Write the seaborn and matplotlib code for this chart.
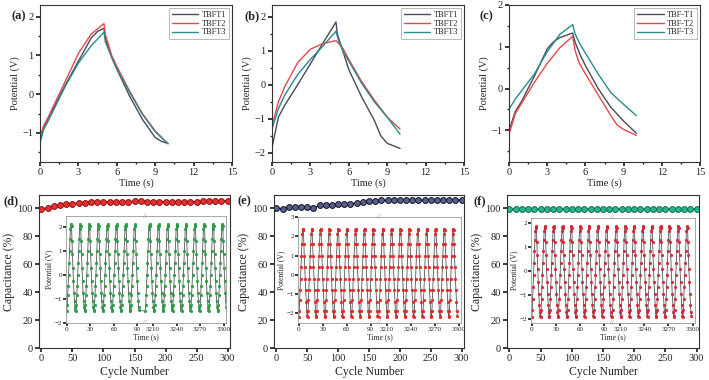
import numpy as np
import pandas as pd
import matplotlib
matplotlib.use('Agg')
import matplotlib.pyplot as plt
from matplotlib.ticker import MultipleLocator
import seaborn as sns

# ---------------- top row: GCD curves (time s, potential V) ----------------
t_a1 = [0, 0.3, 0.6, 2, 4, 4.5, 5, 5.1, 5.6, 6, 7, 8, 9, 9.5, 10]
v_a1 = [-1.2, -0.85, -0.65, 0.25, 1.45, 1.62, 1.7, 1.45, 0.95, 0.65, -0.05, -0.65, -1.12, -1.22, -1.27]
t_a2 = [0, 0.3, 0.6, 2, 3, 4, 5, 5.1, 5.6, 6, 7, 8, 9, 10]
v_a2 = [-1.1, -0.8, -0.62, 0.35, 1.05, 1.55, 1.82, 1.55, 1.0, 0.72, 0.08, -0.5, -0.95, -1.28]
t_a3 = [0, 0.3, 0.6, 2, 3, 4, 5, 5.1, 5.6, 6, 7, 8, 9, 10]
v_a3 = [-1.25, -0.9, -0.72, 0.22, 0.8, 1.25, 1.6, 1.35, 0.95, 0.65, 0.05, -0.52, -0.97, -1.28]

t_b1 = [0, 0.5, 1, 2, 3, 4, 5, 5.1, 6, 7, 8, 8.5, 9, 10]
v_b1 = [-1.85, -0.95, -0.6, 0.0, 0.62, 1.24, 1.85, 1.5, 0.45, -0.35, -1.05, -1.5, -1.72, -1.87]
t_b2 = [0, 0.5, 1, 2, 3, 4, 5, 5.5, 6, 7, 8, 9, 10]
v_b2 = [-1.2, -0.5, -0.05, 0.65, 1.05, 1.22, 1.3, 1.1, 0.75, 0.1, -0.45, -0.95, -1.3]
t_b3 = [0, 0.5, 1, 2, 3, 4, 5, 5.2, 5.6, 6, 7, 8, 9, 10]
v_b3 = [-1.3, -0.7, -0.3, 0.3, 0.75, 1.15, 1.58, 1.3, 0.95, 0.7, 0.05, -0.5, -0.95, -1.45]

t_c1 = [0, 0.5, 1, 2, 3, 3.5, 4, 5, 5.2, 5.6, 6, 7, 8, 9, 10]
v_c1 = [-1.0, -0.55, -0.3, 0.3, 0.95, 1.12, 1.22, 1.33, 1.1, 0.8, 0.55, 0.0, -0.45, -0.78, -1.07]
t_c2 = [0, 0.5, 1, 2, 3, 4, 5, 5.2, 5.5, 6, 7, 8, 8.5, 9, 10]
v_c2 = [-1.1, -0.6, -0.35, 0.15, 0.6, 0.98, 1.25, 0.9, 0.62, 0.35, -0.15, -0.65, -0.88, -0.98, -1.12]
t_c3 = [0, 0.5, 1, 2, 3, 4, 5, 5.2, 5.6, 6, 7, 8, 9, 10]
v_c3 = [-0.5, -0.25, -0.05, 0.35, 0.88, 1.3, 1.53, 1.3, 1.05, 0.85, 0.35, -0.1, -0.38, -0.65]

# ---------------- bottom row: capacitance retention ----------------
cycles = list(range(0, 301, 10))
cap_d = [99.8, 100.0, 101.5, 102.3, 102.9, 103.4, 103.8, 104.1, 104.3, 104.4, 104.5,
         104.6, 104.7, 104.8, 104.8, 104.9, 104.9, 104.8, 104.8, 104.8, 104.7, 104.7,
         104.7, 104.7, 104.8, 104.8, 104.9, 105.0, 105.3, 105.4, 105.5]
cap_e = [100.0, 99.6, 101.0, 101.0, 101.0, 100.7, 100.2, 102.0, 102.4, 102.6, 102.8,
         103.0, 103.3, 103.6, 104.3, 105.2, 105.5, 105.6, 105.7, 105.7, 105.7, 105.7,
         105.8, 105.8, 105.8, 105.8, 105.8, 105.8, 105.8, 105.8, 105.8]
cap_f = [99.6, 99.2, 99.3, 99.5, 99.3, 99.5, 99.5, 99.3, 99.5, 99.3, 99.5,
         99.3, 99.5, 99.3, 99.2, 99.5, 99.3, 99.5, 99.3, 99.5, 99.3, 99.5,
         99.3, 99.5, 99.3, 99.5, 99.3, 99.5, 99.3, 99.5, 99.6]

# ---------------- insets: one charge/discharge cycle ----------------
cycle_frac = [0, .05, .1, .15, .2, .25, .3, .35, .4, .45, .48, .52, .57, .62, .67, .73, .79, .85, .9, .95]
cycle_v_d = [-1.5, -1.25, -0.85, -0.45, 0.0, 0.5, 1.0, 1.5, 1.9, 2.05, 2.1, 2.05, 1.4, 0.85, 0.3, -0.25, -0.75, -1.1, -1.35, -1.48]
cycle_v_e = [-2.2, -1.9, -1.3, -0.8, -0.2, 0.4, 1.0, 1.6, 2.1, 2.35, 2.4, 2.35, 1.6, 1.0, 0.4, -0.2, -0.8, -1.4, -1.9, -2.15]
cycle_v_f = [-1.9, -1.6, -1.15, -0.65, -0.15, 0.35, 0.85, 1.3, 1.65, 1.82, 1.85, 1.8, 1.2, 0.65, 0.1, -0.45, -0.95, -1.4, -1.7, -1.85]
period_d, period_e, period_f = 11.6, 11.0, 11.0
n_cycles_d = (8, 9)
n_cycles_e = (9, 9)
n_cycles_f = (9, 9)
inset_ticks = [0, 30, 60, 90, 3210, 3240, 3270, 3300]

sns.set_theme(style='ticks')
plt.rcParams['font.family'] = ['Liberation Serif', 'DejaVu Serif']
plt.rcParams['axes.edgecolor'] = '#333333'
plt.rcParams['axes.linewidth'] = 0.8
plt.rcParams['xtick.major.size'] = 3
plt.rcParams['ytick.major.size'] = 3
plt.rcParams['xtick.minor.size'] = 1.6
plt.rcParams['ytick.minor.size'] = 1.6
plt.rcParams['xtick.major.pad'] = 1.5
plt.rcParams['ytick.major.pad'] = 1.5

fig = plt.figure(figsize=(7.09, 3.80), dpi=100)
W, H = 709, 380


def px_axes(l, t, r, b):
    return fig.add_axes([l / W, 1 - b / H, (r - l) / W, (b - t) / H])


def broken_time(t):
    # inset axis: 0-100 s then 3200-3300 s side by side
    t = np.asarray(t, dtype=float)
    return np.where(t <= 150, t, t - 3100)


gray, red, teal = '#4a4a5c', '#e5484d', '#2b8a8c'

# ---------- top row ----------
top_panels = [
    ((40, 5, 232, 162), '(a)', 11, (-1.75, 2.3), [-1, 0, 1, 2],
     [(t_a1, v_a1), (t_a2, v_a2), (t_a3, v_a3)], ['TBFT1', 'TBFT2', 'TBFT3']),
    ((272, 5, 464, 162), '(b)', 244, (-2.27, 2.35), [-2, -1, 0, 1, 2],
     [(t_b1, v_b1), (t_b2, v_b2), (t_b3, v_b3)], ['TBFT1', 'TBFT2', 'TBFT3']),
    ((509, 5, 700, 162), '(c)', 480, (-1.76, 2.0), [-1, 0, 1, 2],
     [(t_c1, v_c1), (t_c2, v_c2), (t_c3, v_c3)], ['TBF-T1', 'TBF-T2', 'TBF-T3']),
]

for box, tag, tag_x, ylim, yticks, curves, names in top_panels:
    ax = px_axes(*box)
    frames = []
    for (t, v), name in zip(curves, names):
        frames.append(pd.DataFrame({'Time': t, 'Potential': v, 'Sample': name}))
    df = pd.concat(frames)
    sns.lineplot(data=df, x='Time', y='Potential', hue='Sample',
                 palette=[gray, red, teal], linewidth=1.0, estimator=None,
                 sort=False, ax=ax)
    ax.set_xlim(0, 15)
    ax.set_ylim(*ylim)
    ax.set_xticks([0, 3, 6, 9, 12, 15])
    ax.set_yticks(yticks)
    ax.xaxis.set_minor_locator(MultipleLocator(1.5))
    ax.yaxis.set_minor_locator(MultipleLocator(0.5))
    ax.tick_params(labelsize=7.5, colors='#222222')
    ax.set_xlabel('Time (s)', fontsize=7.5, labelpad=1)
    ax.set_ylabel('Potential (V)', fontsize=7.5, labelpad=2)
    for s in ax.spines.values():
        s.set_visible(True)
    leg = ax.legend(loc='upper right', fontsize=6, frameon=True, fancybox=False,
                    edgecolor='#999999', handlelength=3.2, borderpad=0.3,
                    labelspacing=0.1, handletextpad=0.4, borderaxespad=0.4)
    leg.get_frame().set_linewidth(0.6)
    fig.text(tag_x / W, 1 - 16 / H, tag, fontsize=9, fontweight='bold',
             va='center', ha='left')

# ---------- bottom row ----------
bottom_panels = [
    ((39, 195, 230, 348), (66, 216, 226, 323), '(d)', 3, cap_d,
     dict(color='#d42020', mfc='#e83030', mec='#8a1010'),
     cycle_v_d, period_d, n_cycles_d, '#2e9a48', (-2.0, 2.45), [-2, -1, 0, 1, 2]),
    ((274, 195, 464, 348), (298, 217, 461, 323), '(e)', 238, cap_e,
     dict(color='#15153a', mfc='#5a6088', mec='#10102a'),
     cycle_v_e, period_e, n_cycles_e, '#e02828', (-2.5, 3.0), [-2, -1, 0, 1, 2, 3]),
    ((507, 195, 699, 348), (531, 218, 695, 323), '(f)', 473, cap_f,
     dict(color='#138a6a', mfc='#2ab58c', mec='#0d6a50'),
     cycle_v_f, period_f, n_cycles_f, '#d02838', (-2.15, 2.2), [-2, -1, 0, 1, 2]),
]

for box, ibox, tag, tag_x, cap, style, cyc_v, period, ncyc, mcol, iylim, iyticks in bottom_panels:
    ax = px_axes(*box)
    df = pd.DataFrame({'Cycle': cycles, 'Capacitance': cap})
    sns.lineplot(data=df, x='Cycle', y='Capacitance', color=style['color'],
                 linewidth=1.0, marker='o', markersize=4.2,
                 markerfacecolor=style['mfc'], markeredgecolor=style['mec'],
                 markeredgewidth=0.7, ax=ax)
    ax.set_xlim(-4, 304)
    ax.set_ylim(0, 109.5)
    ax.set_xticks(range(0, 301, 50))
    ax.set_yticks(range(0, 101, 20))
    ax.tick_params(labelsize=7.5, colors='#222222')
    ax.set_xlabel('Cycle Number', fontsize=8.5, labelpad=2)
    ax.set_ylabel('Capacitance (%)', fontsize=8.5, labelpad=2)
    for s in ax.spines.values():
        s.set_visible(True)
    fig.text(tag_x / W, 1 - 201 / H, tag, fontsize=9, fontweight='bold',
             va='center', ha='left')

    # inset GCD cycling
    ins = px_axes(*ibox)
    one_t = np.array(cycle_frac) * period
    seg_t, seg_v = [], []
    for start, n in zip([0, 3200], ncyc):
        for k in range(n):
            seg_t.extend(start + k * period + one_t)
            seg_v.extend(cyc_v)
    idf = pd.DataFrame({'Time': broken_time(seg_t), 'Potential': seg_v})
    sns.lineplot(data=idf, x='Time', y='Potential', color='#555555', linewidth=0.6,
                 marker='o', markersize=2.0, markerfacecolor=mcol,
                 markeredgecolor=mcol, markeredgewidth=0.3, estimator=None,
                 sort=False, ax=ins)
    ins.set_xlim(-1, 203)
    ins.set_ylim(*iylim)
    ins.set_xticks(broken_time(inset_ticks))
    ins.set_xticklabels([str(v) for v in inset_ticks])
    ins.set_yticks(iyticks)
    ins.tick_params(labelsize=5, length=2, pad=1, colors='#222222')
    ins.set_xlabel('Time (s)', fontsize=5.5, labelpad=1)
    ins.set_ylabel('Potential (V)', fontsize=5.5, labelpad=1)
    for s in ins.spines.values():
        s.set_visible(True)
        s.set_color('#999999')
        s.set_linewidth(0.6)
    for yy in [1.0, 0.0]:
        ins.text(100, yy, '//', transform=ins.get_xaxis_transform(),
                 fontsize=5, color='#888888', ha='center', va='center')

fig.savefig('out.png', dpi=100)
